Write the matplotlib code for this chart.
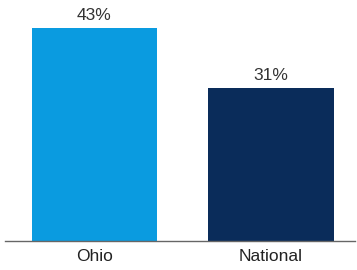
import matplotlib.pyplot as plt

plt.rcParams['font.family'] = ['Liberation Sans', 'DejaVu Sans']

categories = ['Ohio', 'National']
values = [43, 31]
colors = ['#0a9be0', '#0a2c5a']

fig = plt.figure(figsize=(3.57, 2.70), dpi=100)
ax = fig.add_axes([5 / 357, 29 / 270, 350 / 357, 234 / 270])

x = range(len(categories))
bars = ax.bar(x, values, width=0.71, color=colors)

for xi, v in zip(x, values):
    ax.text(xi, v + 1.0, f'{v}%', ha='center', va='bottom', fontsize=12.5, color='#333333')

ax.set_xlim(-0.507, 1.476)
ax.set_ylim(0, 47.3)
ax.set_xticks(list(x))
ax.set_xticklabels(categories, fontsize=12.5, color='#222222')
ax.tick_params(axis='x', length=0, pad=6)
ax.set_yticks([])
for side in ['top', 'right', 'left']:
    ax.spines[side].set_visible(False)
ax.spines['bottom'].set_color('#666666')
ax.spines['bottom'].set_linewidth(1)

fig.savefig('out.png', dpi=100)
